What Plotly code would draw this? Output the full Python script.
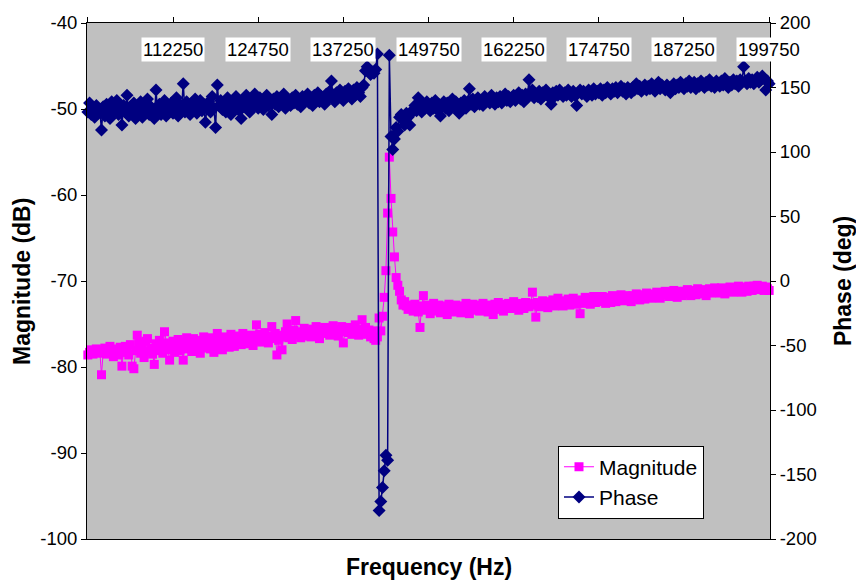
import plotly.graph_objects as go

# Frequency axis: 401 points, 250 Hz apart
f_start = 99750
f_step = 250

magnitude_db = [
    -78.6, -78.3, -78.0, -78.5, -78.2, -77.9, -78.4, -78.1, -80.9, -78.3,
    -77.8, -78.5, -78.1, -77.6, -78.4, -78.8, -77.9, -78.2, -78.6, -77.7,
    -79.9, -78.3, -77.6, -78.0, -78.6, -77.4, -79.9, -80.2, -78.1, -76.3,
    -77.2, -78.4, -77.5, -78.9, -77.0, -76.7, -78.2, -77.8, -78.5, -79.7,
    -77.3, -78.1, -76.9, -77.8, -78.4, -75.9, -77.2, -78.0, -79.2, -77.5,
    -77.0, -78.3, -77.6, -76.8, -78.1, -77.4, -79.2, -77.1, -76.6, -77.9,
    -77.5, -78.2, -76.7, -77.3, -77.9, -76.9, -78.4, -77.2, -76.5, -77.8,
    -77.4, -76.6, -77.9, -77.1, -78.3, -76.8, -76.1, -77.5, -77.0, -78.0,
    -76.5, -77.3, -76.8, -77.7, -76.2, -77.1, -77.6, -76.4, -77.0, -76.7,
    -77.4, -76.1, -76.9, -77.3, -76.5, -77.0, -76.3, -77.5, -76.8, -75.1,
    -76.9, -76.2, -77.1, -76.6, -76.0, -76.8, -77.2, -76.4, -75.3, -76.7,
    -76.1, -78.6, -76.9, -76.3, -78.0, -76.5, -75.9, -75.0, -76.6, -76.2,
    -76.8, -75.7, -74.6, -76.3, -75.9, -76.6, -76.0, -75.5, -76.4, -76.1,
    -75.8, -76.5, -75.6, -76.2, -75.3, -76.0, -76.7, -75.7, -76.1, -75.4,
    -76.0, -75.5, -76.3, -75.8, -75.2, -76.1, -75.6, -76.4, -75.9, -75.3,
    -77.2, -75.8, -75.4, -76.0, -75.5, -76.2, -75.7, -75.1, -75.9, -76.3,
    -75.6, -74.5, -75.9, -75.4, -76.2, -75.7, -76.5, -75.8, -76.7, -76.9,
    -76.5, -74.3, -75.8, -74.1, -71.9, -68.8, -62.1, -55.6, -60.4, -64.3,
    -67.2, -69.6, -70.5, -71.2, -72.2, -72.8,
    -72.4, -72.9, -73.3, -72.8,
    -73.1, -73.5, -72.7, -73.2, -73.6, -75.4, -72.9, -71.7, -73.4, -72.8,
    -73.3, -73.8, -73.0, -72.6, -73.5, -73.1, -72.8, -73.7, -73.2, -72.9,
    -73.4, -73.9, -72.7, -73.2, -73.6, -73.0, -72.8, -73.5, -73.1, -73.7,
    -72.9, -73.3, -72.6, -73.0, -73.8, -73.2, -72.7, -73.4, -73.0, -72.8,
    -73.5, -73.1, -72.6, -73.3, -72.9, -73.6, -72.8, -73.2, -73.9, -72.7,
    -73.0, -72.5, -73.3, -72.9, -73.5, -72.7, -73.1, -72.6, -73.2, -72.9,
    -72.4, -73.1, -72.8, -73.4, -72.6, -72.9, -73.2, -72.5, -72.9, -73.0,
    -72.6, -71.3, -72.8, -74.2, -72.5, -73.0, -72.7, -72.3, -72.9, -72.6,
    -73.1, -72.4, -72.8, -72.2, -72.9, -72.5, -72.0, -72.7, -72.4, -72.9,
    -72.3, -72.6, -72.1, -72.8, -72.4, -72.0, -72.7, -72.3, -72.5, -73.8,
    -72.2, -72.6, -71.9, -72.4, -72.1, -72.7, -72.3, -71.8, -72.5, -72.2,
    -72.0, -72.4, -71.8, -72.3, -72.6, -71.9, -72.2, -72.5, -71.7, -72.1,
    -72.4, -71.8, -72.2, -71.6, -72.0, -72.3, -71.7, -72.1, -71.9, -72.4,
    -71.7, -72.0, -71.5, -71.9, -72.2, -71.6, -71.8, -72.1, -71.4, -71.9,
    -71.6, -72.0, -71.5, -71.8, -71.3, -71.7, -72.0, -71.4, -71.6, -71.2,
    -71.5, -71.8, -71.3, -71.6, -71.1, -71.5, -71.9, -71.2, -71.4, -71.7,
    -71.2, -71.5, -71.0, -71.4, -71.7, -71.1, -71.3, -71.6, -70.9, -71.3,
    -71.5, -71.0, -71.3, -71.7, -71.1, -70.9, -71.4, -71.2, -70.8, -71.3,
    -71.0, -71.4, -70.8, -71.1, -71.5, -70.9, -71.2, -70.7, -71.0, -71.3,
    -70.8, -71.1, -70.6, -71.0, -71.3, -70.7, -70.9, -71.2, -70.6, -70.9,
    -71.1, -70.6, -70.9, -70.5, -71.0, -70.8, -70.6, -71.1, -70.7, -70.9,
    -71.1,
]

phase_deg = [
    131, 138, 129, 134, 127, 136, 130, 133, 117, 135,
    128, 137, 132, 126, 139, 130, 134, 140, 129, 133,
    121, 136, 131, 144, 128, 135, 130, 138, 126, 134,
    132, 139, 127, 136, 131, 141, 129, 135, 133, 126,
    148, 131, 137, 129, 134, 140, 128, 136, 132, 138,
    130, 135, 142, 128, 137, 133, 153, 131, 139, 134,
    129, 138, 133, 141, 130, 136, 140, 132, 137, 123,
    135, 139, 131, 143, 134, 119, 152, 136, 140, 133,
    138, 131, 142, 136, 129, 140, 134, 143, 137, 132,
    126, 139, 135, 144, 138, 131, 141, 136, 145, 139,
    134, 142, 137, 133, 140, 144, 136, 139, 129, 141,
    137, 143, 135, 140, 138, 145, 134, 141, 139, 136,
    142, 138, 144, 137, 140, 135, 143, 139, 141, 145,
    138, 142, 136, 144, 140, 146, 139, 143, 141, 137,
    145, 141, 147, 155, 143, 139, 146, 142, 148, 144,
    140, 147, 143, 149, 145, 141, 148, 144, 150, 146,
    143, 150, 152, 163, 166, 162, 160, 162, 161, 164,
    176, -178, -171, -160, -147, -135, -139, 175,
    112, 102, 110, 119, 116, 127, 129, 125, 121, 130, 127,
    121, 130, 133, 136, 132, 142, 135, 131, 137, 134, 139,
    136, 132, 138, 134, 140, 133, 137, 128, 135, 139,
    134, 138, 132, 137, 141, 135, 139, 133, 130, 138,
    136, 140, 134, 139, 149, 137, 141, 135, 138, 142,
    137, 140, 136, 143, 139, 141, 138, 144, 140, 137,
    142, 139, 143, 138, 141, 145, 140, 143, 139, 142,
    144, 140, 143, 146, 141, 144, 139, 145, 142, 156,
    144, 148, 142, 145, 143, 147, 141, 146, 144, 148,
    145, 142, 137, 146, 143, 147, 144, 148, 145, 143,
    146, 144, 148, 145, 143, 147, 144, 136, 146, 148,
    145, 147, 145, 143, 148, 146, 144, 149, 145, 147,
    146, 149, 144, 148, 146, 150, 147, 145, 149, 147,
    150, 146, 148, 151, 147, 149, 145, 150, 148, 146,
    150, 148, 153, 149, 151, 147, 150, 152, 148, 151,
    149, 153, 150, 147, 151, 154, 149, 152, 150, 148,
    152, 150, 146, 151, 153, 149, 152, 150, 154, 151,
    149, 153, 151, 155, 150, 152, 154, 149, 153, 151,
    155, 152, 150, 154, 152, 156, 151, 153, 150, 155,
    153, 151, 155, 152, 157, 153, 150, 154, 152, 156,
    153, 155, 151, 156, 154, 166, 155, 153, 157, 154,
    156, 153, 155, 158, 154, 156, 159, 157, 148, 155,
    153,
]

tick_labels = [112250, 124750, 137250, 149750, 162250, 174750, 187250, 199750]
tick_marks = [99750] + tick_labels
mag_ticks = [-100, -90, -80, -70, -60, -50, -40]
phase_ticks = [-200, -150, -100, -50, 0, 50, 100, 150, 200]

freq_mag = [f_start + f_step * i for i in range(len(magnitude_db))]
freq_ph = [f_start + f_step * i for i in range(len(phase_deg))]

FONT = "Arial, Liberation Sans, Helvetica, sans-serif"
MAG_COLOR = "#FF00FF"
PH_COLOR = "#000080"

fig = go.Figure()
fig.add_trace(go.Scatter(
    x=freq_mag, y=magnitude_db, name="Magnitude", mode="lines+markers",
    line=dict(color=MAG_COLOR, width=1),
    marker=dict(symbol="square", size=9, color=MAG_COLOR),
    yaxis="y", cliponaxis=False,
))
fig.add_trace(go.Scatter(
    x=freq_ph, y=phase_deg, name="Phase", mode="lines+markers",
    line=dict(color=PH_COLOR, width=1.5),
    marker=dict(symbol="diamond", size=10, color=PH_COLOR),
    yaxis="y2", cliponaxis=False,
))

annotations = []
for t in tick_labels:
    annotations.append(dict(
        x=t, xref="x", y=0.948, yref="paper", text=str(t), showarrow=False,
        xanchor="center", yanchor="middle", bgcolor="white", borderpad=1,
        font=dict(family=FONT, size=18.5, color="black"),
    ))
annotations += [
    dict(x=0.5, xref="paper", y=-0.0534, yref="paper", yanchor="middle",
         text="<b>Frequency (Hz)</b>", showarrow=False,
         font=dict(family=FONT, size=23, color="black")),
    dict(x=-0.0952, xref="paper", y=0.5, yref="paper", xanchor="center",
         yanchor="middle", text="<b>Magnitude (dB)</b>", textangle=-90,
         showarrow=False, font=dict(family=FONT, size=23, color="black")),
    dict(x=1.107, xref="paper", y=0.5, yref="paper", xanchor="center",
         yanchor="middle", text="<b>Phase (deg)</b>", textangle=-90,
         showarrow=False, font=dict(family=FONT, size=23, color="black")),
]

fig.update_layout(
    width=856, height=586,
    margin=dict(l=87, r=86, t=15, b=47),
    paper_bgcolor="white", plot_bgcolor="#C0C0C0",
    font=dict(family=FONT, size=18, color="black"),
    showlegend=True,
    legend=dict(x=0.6896, y=0.181, xanchor="left", yanchor="top",
                bgcolor="white", bordercolor="black", borderwidth=1,
                font=dict(family=FONT, size=21, color="black"),
                tracegroupgap=0, itemwidth=30),
    xaxis=dict(side="top", range=[99625, 199875], tickvals=tick_marks,
               showticklabels=False, ticks="outside", ticklen=5,
               tickcolor="black", showline=True, linecolor="black",
               linewidth=1, mirror=True, showgrid=False, zeroline=False),
    yaxis=dict(range=[-100, -40], tickvals=mag_ticks,
               ticktext=[str(v) for v in mag_ticks],
               ticks="outside", ticklen=5,
               tickcolor="black", showline=True, linecolor="black",
               linewidth=1, showgrid=False, zeroline=False,
               tickfont=dict(family=FONT, size=18.5)),
    yaxis2=dict(range=[-200, 200], tickvals=phase_ticks,
                ticktext=[str(v) for v in phase_ticks],
                overlaying="y", side="right",
                ticks="outside", ticklen=5, tickcolor="black",
                showline=True, linecolor="black", linewidth=1,
                showgrid=False, zeroline=False,
                tickfont=dict(family=FONT, size=18.5)),
    annotations=annotations,
)

fig.write_html("out.html")
